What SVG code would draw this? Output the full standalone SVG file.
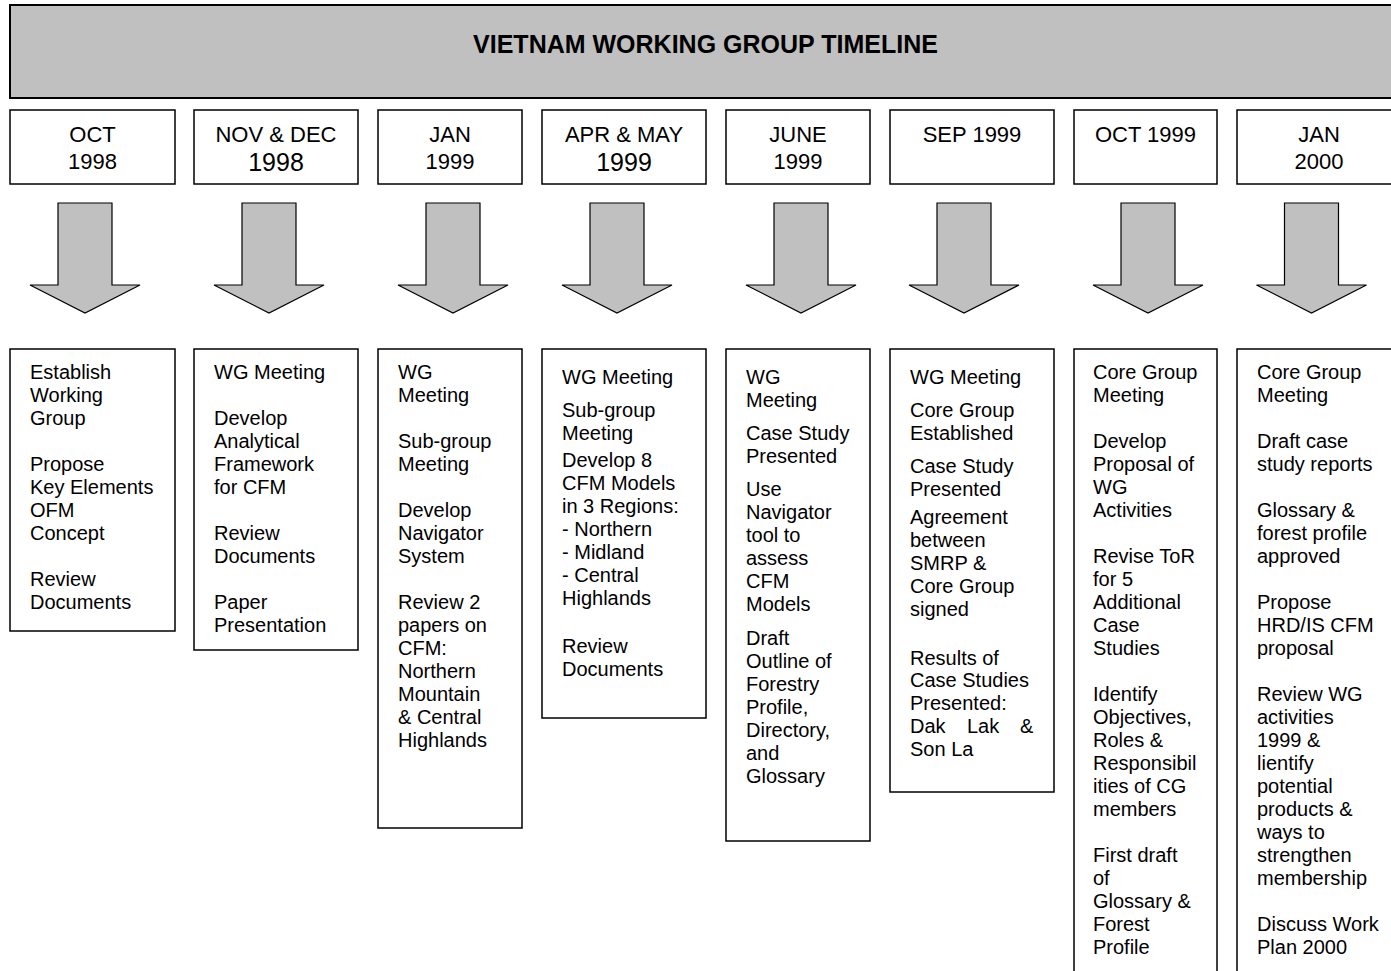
<svg xmlns="http://www.w3.org/2000/svg" width="1391" height="971" viewBox="0 0 1391 971">
  <defs>
    <style>
      .hdr { fill: #c0c0c0; stroke: #000; stroke-width: 2; }
      .box { fill: #fff; stroke: #000; stroke-width: 1.5; }
      .arrow { fill: #c0c0c0; stroke: #000; stroke-width: 1.2; stroke-linejoin: miter; }
      .title { font-family: "Liberation Sans", Arial, sans-serif; font-weight: bold; font-size: 25px; fill: #000; text-anchor: middle; }
      .date { font-family: "Liberation Sans", Arial, sans-serif; font-size: 22px; fill: #000; text-anchor: middle; }
      .date-lg { font-size: 25px; }
      .body { font-family: "Liberation Sans", Arial, sans-serif; font-size: 20px; fill: #000; }
    </style>
    <!-- block arrow pointing down, centred on x=0 -->
    <path id="down" d="M -27 203 H 27 V 285 H 55 L 0 313 L -55 285 H -27 Z"/>
  </defs>
  <rect width="1391" height="971" fill="#fff"/>

  <g id="header">
    <rect class="hdr" x="10" y="5" width="1400" height="93"/>
    <text class="title" x="705.5" y="53">VIETNAM WORKING GROUP TIMELINE</text>
  </g>

  <!-- period boxes -->
  <g id="period-oct-1998">
    <rect class="box" x="10" y="110" width="165" height="74"/>
    <text class="date" x="92.5" y="142">OCT</text>
    <text class="date" x="92.5" y="169">1998</text>
  </g>
  <g id="period-nov-dec-1998">
    <rect class="box" x="194" y="110" width="164" height="74"/>
    <text class="date" x="276" y="142">NOV &amp; DEC</text>
    <text class="date date-lg" x="276" y="171">1998</text>
  </g>
  <g id="period-jan-1999">
    <rect class="box" x="378" y="110" width="144" height="74"/>
    <text class="date" x="450" y="142">JAN</text>
    <text class="date" x="450" y="169">1999</text>
  </g>
  <g id="period-apr-may-1999">
    <rect class="box" x="542" y="110" width="164" height="74"/>
    <text class="date" x="624" y="142">APR &amp; MAY</text>
    <text class="date date-lg" x="624" y="171">1999</text>
  </g>
  <g id="period-june-1999">
    <rect class="box" x="726" y="110" width="144" height="74"/>
    <text class="date" x="798" y="142">JUNE</text>
    <text class="date" x="798" y="169">1999</text>
  </g>
  <g id="period-sep-1999">
    <rect class="box" x="890" y="110" width="164" height="74"/>
    <text class="date" x="972" y="142">SEP 1999</text>
  </g>
  <g id="period-oct-1999">
    <rect class="box" x="1074" y="110" width="143" height="74"/>
    <text class="date" x="1145.5" y="142">OCT 1999</text>
  </g>
  <g id="period-jan-2000">
    <rect class="box" x="1237" y="110" width="164" height="74"/>
    <text class="date" x="1319" y="142">JAN</text>
    <text class="date" x="1319" y="169">2000</text>
  </g>

  <!-- connectors: block arrows from each period to its activities -->
  <g id="connectors">
    <use href="#down" class="arrow" x="85"/>
    <use href="#down" class="arrow" x="269"/>
    <use href="#down" class="arrow" x="453"/>
    <use href="#down" class="arrow" x="617"/>
    <use href="#down" class="arrow" x="801"/>
    <use href="#down" class="arrow" x="964"/>
    <use href="#down" class="arrow" x="1148"/>
    <use href="#down" class="arrow" x="1311.5"/>
  </g>

  <!-- activity boxes -->
  <g id="activities-oct-1998">
    <rect class="box" x="10" y="349" width="165" height="282"/>
    <text class="body">
      <tspan x="30" y="379">Establish</tspan>
      <tspan x="30" y="402">Working</tspan>
      <tspan x="30" y="425">Group</tspan>
      <tspan x="30" y="471">Propose</tspan>
      <tspan x="30" y="494">Key Elements</tspan>
      <tspan x="30" y="517">OFM</tspan>
      <tspan x="30" y="540">Concept</tspan>
      <tspan x="30" y="586">Review</tspan>
      <tspan x="30" y="609">Documents</tspan>
    </text>
  </g>
  <g id="activities-nov-dec-1998">
    <rect class="box" x="194" y="349" width="164" height="301"/>
    <text class="body">
      <tspan x="214" y="379">WG Meeting</tspan>
      <tspan x="214" y="425">Develop</tspan>
      <tspan x="214" y="448">Analytical</tspan>
      <tspan x="214" y="471">Framework</tspan>
      <tspan x="214" y="494">for CFM</tspan>
      <tspan x="214" y="540">Review</tspan>
      <tspan x="214" y="563">Documents</tspan>
      <tspan x="214" y="609">Paper</tspan>
      <tspan x="214" y="632">Presentation</tspan>
    </text>
  </g>
  <g id="activities-jan-1999">
    <rect class="box" x="378" y="349" width="144" height="479"/>
    <text class="body">
      <tspan x="398" y="379">WG</tspan>
      <tspan x="398" y="402">Meeting</tspan>
      <tspan x="398" y="448">Sub-group</tspan>
      <tspan x="398" y="471">Meeting</tspan>
      <tspan x="398" y="517">Develop</tspan>
      <tspan x="398" y="540">Navigator</tspan>
      <tspan x="398" y="563">System</tspan>
      <tspan x="398" y="609">Review 2</tspan>
      <tspan x="398" y="632">papers on</tspan>
      <tspan x="398" y="655">CFM:</tspan>
      <tspan x="398" y="678">Northern</tspan>
      <tspan x="398" y="701">Mountain</tspan>
      <tspan x="398" y="724">&amp; Central</tspan>
      <tspan x="398" y="747">Highlands</tspan>
    </text>
  </g>
  <g id="activities-apr-may-1999">
    <rect class="box" x="542" y="349" width="164" height="369"/>
    <text class="body">
      <tspan x="562" y="384">WG Meeting</tspan>
      <tspan x="562" y="417">Sub-group</tspan>
      <tspan x="562" y="440">Meeting</tspan>
      <tspan x="562" y="467">Develop 8</tspan>
      <tspan x="562" y="490">CFM Models</tspan>
      <tspan x="562" y="513">in 3 Regions:</tspan>
      <tspan x="562" y="536">- Northern</tspan>
      <tspan x="562" y="559">- Midland</tspan>
      <tspan x="562" y="582">- Central</tspan>
      <tspan x="562" y="605">Highlands</tspan>
      <tspan x="562" y="653">Review</tspan>
      <tspan x="562" y="676">Documents</tspan>
    </text>
  </g>
  <g id="activities-june-1999">
    <rect class="box" x="726" y="349" width="144" height="492"/>
    <text class="body">
      <tspan x="746" y="384">WG</tspan>
      <tspan x="746" y="407">Meeting</tspan>
      <tspan x="746" y="440">Case Study</tspan>
      <tspan x="746" y="463">Presented</tspan>
      <tspan x="746" y="496">Use</tspan>
      <tspan x="746" y="519">Navigator</tspan>
      <tspan x="746" y="542">tool to</tspan>
      <tspan x="746" y="565">assess</tspan>
      <tspan x="746" y="588">CFM</tspan>
      <tspan x="746" y="611">Models</tspan>
      <tspan x="746" y="645">Draft</tspan>
      <tspan x="746" y="668">Outline of</tspan>
      <tspan x="746" y="691">Forestry</tspan>
      <tspan x="746" y="714">Profile,</tspan>
      <tspan x="746" y="737">Directory,</tspan>
      <tspan x="746" y="760">and</tspan>
      <tspan x="746" y="783">Glossary</tspan>
    </text>
  </g>
  <g id="activities-sep-1999">
    <rect class="box" x="890" y="349" width="164" height="443"/>
    <text class="body">
      <tspan x="910" y="384">WG Meeting</tspan>
      <tspan x="910" y="417">Core Group</tspan>
      <tspan x="910" y="440">Established</tspan>
      <tspan x="910" y="473">Case Study</tspan>
      <tspan x="910" y="496">Presented</tspan>
      <tspan x="910" y="524">Agreement</tspan>
      <tspan x="910" y="547">between</tspan>
      <tspan x="910" y="570">SMRP &amp;</tspan>
      <tspan x="910" y="593">Core Group</tspan>
      <tspan x="910" y="616">signed</tspan>
      <tspan x="910" y="665">Results of</tspan>
      <tspan x="910" y="687">Case Studies</tspan>
      <tspan x="910" y="710">Presented:</tspan>
      <tspan x="910" y="733">Dak</tspan>
      <tspan x="967" y="733">Lak</tspan>
      <tspan x="1020" y="733">&amp;</tspan>
      <tspan x="910" y="756">Son La</tspan>
    </text>
  </g>
  <g id="activities-oct-1999">
    <rect class="box" x="1074" y="349" width="143" height="640"/>
    <text class="body">
      <tspan x="1093" y="379">Core Group</tspan>
      <tspan x="1093" y="402">Meeting</tspan>
      <tspan x="1093" y="448">Develop</tspan>
      <tspan x="1093" y="471">Proposal of</tspan>
      <tspan x="1093" y="494">WG</tspan>
      <tspan x="1093" y="517">Activities</tspan>
      <tspan x="1093" y="563">Revise ToR</tspan>
      <tspan x="1093" y="586">for 5</tspan>
      <tspan x="1093" y="609">Additional</tspan>
      <tspan x="1093" y="632">Case</tspan>
      <tspan x="1093" y="655">Studies</tspan>
      <tspan x="1093" y="701">Identify</tspan>
      <tspan x="1093" y="724">Objectives,</tspan>
      <tspan x="1093" y="747">Roles &amp;</tspan>
      <tspan x="1093" y="770">Responsibil</tspan>
      <tspan x="1093" y="793">ities of CG</tspan>
      <tspan x="1093" y="816">members</tspan>
      <tspan x="1093" y="862">First draft</tspan>
      <tspan x="1093" y="885">of</tspan>
      <tspan x="1093" y="908">Glossary &amp;</tspan>
      <tspan x="1093" y="931">Forest</tspan>
      <tspan x="1093" y="954">Profile</tspan>
    </text>
  </g>
  <g id="activities-jan-2000">
    <rect class="box" x="1237" y="349" width="164" height="640"/>
    <text class="body">
      <tspan x="1257" y="379">Core Group</tspan>
      <tspan x="1257" y="402">Meeting</tspan>
      <tspan x="1257" y="448">Draft case</tspan>
      <tspan x="1257" y="471">study reports</tspan>
      <tspan x="1257" y="517">Glossary &amp;</tspan>
      <tspan x="1257" y="540">forest profile</tspan>
      <tspan x="1257" y="563">approved</tspan>
      <tspan x="1257" y="609">Propose</tspan>
      <tspan x="1257" y="632">HRD/IS CFM</tspan>
      <tspan x="1257" y="655">proposal</tspan>
      <tspan x="1257" y="701">Review WG</tspan>
      <tspan x="1257" y="724">activities</tspan>
      <tspan x="1257" y="747">1999 &amp;</tspan>
      <tspan x="1257" y="770">lientify</tspan>
      <tspan x="1257" y="793">potential</tspan>
      <tspan x="1257" y="816">products &amp;</tspan>
      <tspan x="1257" y="839">ways to</tspan>
      <tspan x="1257" y="862">strengthen</tspan>
      <tspan x="1257" y="885">membership</tspan>
      <tspan x="1257" y="931">Discuss Work</tspan>
      <tspan x="1257" y="954">Plan 2000</tspan>
    </text>
  </g>
</svg>
